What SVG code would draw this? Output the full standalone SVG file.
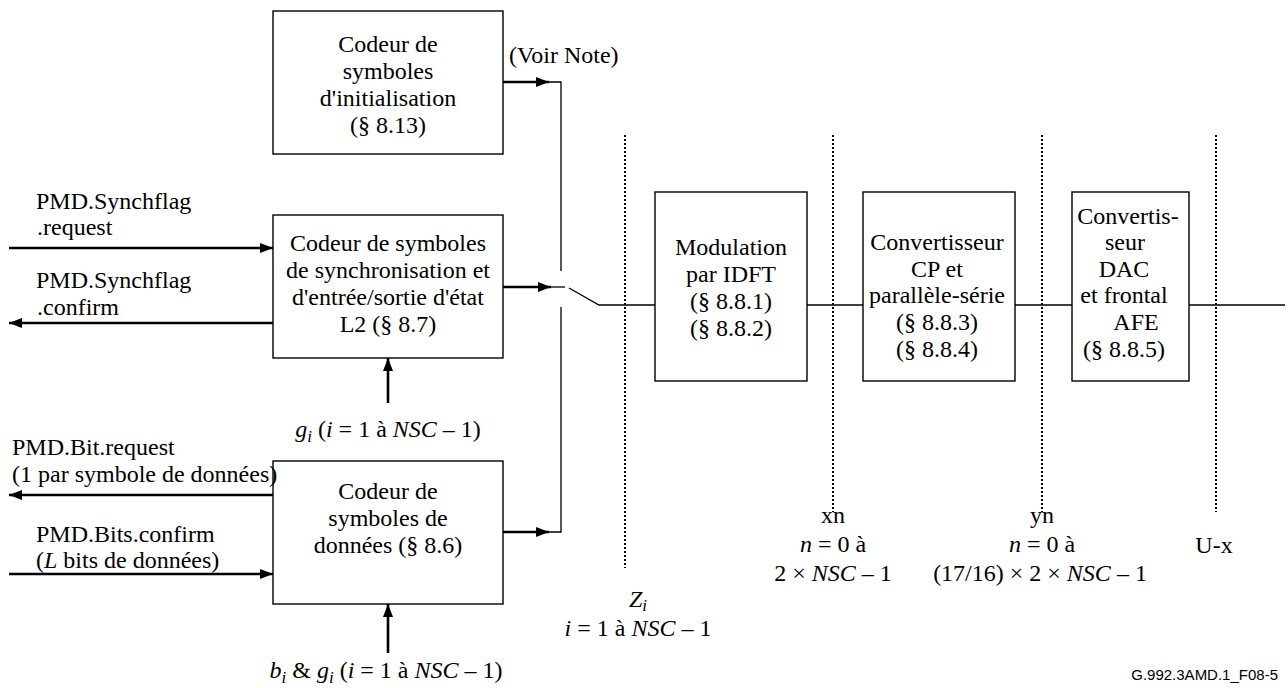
<svg xmlns="http://www.w3.org/2000/svg" width="1288" height="688" viewBox="0 0 1288 688">
  <defs>
    <marker id="arrow" markerUnits="userSpaceOnUse" markerWidth="14" markerHeight="10" refX="13" refY="5" orient="auto">
      <path d="M0,0 L13,5 L0,10 Z" fill="#000"/>
    </marker>
    <style>
      .box { fill: #fff; stroke: #000; stroke-width: 1.4; }
      .t { font-family: "Liberation Serif", "Times New Roman", serif; font-size: 24px; fill: #000; }
      .c { text-anchor: middle; }
      .it { font-style: italic; }
      .sub { font-size: 17px; font-style: italic; }
      .thick { stroke: #000; stroke-width: 2.6; fill: none; }
      .thin { stroke: #000; stroke-width: 1.3; fill: none; }
      .dots { stroke: #000; stroke-width: 2; stroke-dasharray: 2 2; fill: none; }
      .ref { font-family: "Liberation Sans", Arial, sans-serif; font-size: 15px; fill: #000; }
    </style>
  </defs>
  <rect width="1288" height="688" fill="#fff"/>

  <!-- reference points between stages -->
  <g id="reference-points">
    <line class="dots" x1="625" y1="135" x2="625" y2="568"/>
    <line class="dots" x1="833" y1="135" x2="833" y2="512"/>
    <line class="dots" x1="1042" y1="135" x2="1042" y2="512"/>
    <line class="dots" x1="1216" y1="135" x2="1216" y2="512"/>
  </g>

  <!-- signal paths -->
  <g id="connectors">
    <!-- encoder outputs into the selector bus -->
    <line class="thick" x1="503" y1="82" x2="549" y2="82" marker-end="url(#arrow)"/>
    <path class="thin" d="M548,82 H561 V271"/>
    <line class="thick" x1="503" y1="287" x2="551" y2="287" marker-end="url(#arrow)"/>
    <line class="thin" x1="550" y1="287" x2="565" y2="287"/>
    <line class="thick" x1="503" y1="532" x2="549" y2="532" marker-end="url(#arrow)"/>
    <path class="thin" d="M548,532 H561 V307"/>
    <!-- selector switch and transmit chain -->
    <path class="thin" d="M569,288 L599,305 H655"/>
    <line class="thin" x1="807" y1="305" x2="863" y2="305"/>
    <line class="thin" x1="1015" y1="305" x2="1072" y2="305"/>
    <line class="thin" x1="1189" y1="305" x2="1285" y2="305"/>
    <!-- primitives on the left -->
    <line class="thick" x1="9" y1="248" x2="273" y2="248" marker-end="url(#arrow)"/>
    <line class="thick" x1="273" y1="323" x2="9" y2="323" marker-end="url(#arrow)"/>
    <line class="thick" x1="273" y1="495" x2="9" y2="495" marker-end="url(#arrow)"/>
    <line class="thick" x1="9" y1="574" x2="273" y2="574" marker-end="url(#arrow)"/>
    <!-- parameter inputs from below -->
    <line class="thick" x1="388" y1="403" x2="388" y2="358" marker-end="url(#arrow)"/>
    <line class="thick" x1="388" y1="653" x2="388" y2="604" marker-end="url(#arrow)"/>
  </g>

  <g id="init-coder">
    <rect class="box" x="273" y="11" width="230" height="143"/>
    <text class="t c" x="388" y="52">Codeur de</text>
    <text class="t c" x="388" y="79">symboles</text>
    <text class="t c" x="388" y="106">d'initialisation</text>
    <text class="t c" x="388" y="133">(§ 8.13)</text>
  </g>

  <g id="sync-coder">
    <rect class="box" x="273" y="215" width="230" height="143"/>
    <text class="t c" x="388" y="251">Codeur de symboles</text>
    <text class="t c" x="388" y="278">de synchronisation et</text>
    <text class="t c" x="388" y="305">d'entrée/sortie d'état</text>
    <text class="t c" x="388" y="332">L2 (§ 8.7)</text>
  </g>

  <g id="data-coder">
    <rect class="box" x="273" y="461" width="230" height="143"/>
    <text class="t c" x="388" y="499">Codeur de</text>
    <text class="t c" x="388" y="526">symboles de</text>
    <text class="t c" x="388" y="553">données (§ 8.6)</text>
  </g>

  <g id="idft">
    <rect class="box" x="655" y="192" width="152" height="189"/>
    <text class="t c" x="731" y="255">Modulation</text>
    <text class="t c" x="731" y="282">par IDFT</text>
    <text class="t c" x="731" y="309">(§ 8.8.1)</text>
    <text class="t c" x="731" y="336">(§ 8.8.2)</text>
  </g>

  <g id="cp-ps">
    <rect class="box" x="863" y="192" width="152" height="189"/>
    <text class="t c" x="937" y="250">Convertisseur</text>
    <text class="t c" x="937" y="277">CP et</text>
    <text class="t c" x="937" y="303">parallèle-série</text>
    <text class="t c" x="937" y="330">(§ 8.8.3)</text>
    <text class="t c" x="937" y="357">(§ 8.8.4)</text>
  </g>

  <g id="dac-afe">
    <rect class="box" x="1072" y="192" width="117" height="189"/>
    <text class="t c" x="1128" y="224">Convertis-</text>
    <text class="t c" x="1125" y="250">seur</text>
    <text class="t c" x="1124" y="277">DAC</text>
    <text class="t c" x="1124" y="303">et frontal</text>
    <text class="t c" x="1136" y="330">AFE</text>
    <text class="t c" x="1124" y="357">(§ 8.8.5)</text>
  </g>

  <g id="labels">
    <text class="t" x="509" y="63">(Voir Note)</text>
    <text class="t" x="36" y="209">PMD.Synchflag</text>
    <text class="t" x="37" y="235">.request</text>
    <text class="t" x="36" y="288">PMD.Synchflag</text>
    <text class="t" x="37" y="315">.confirm</text>
    <text class="t" x="12" y="455">PMD.Bit.request</text>
    <text class="t" x="12" y="482">(1 par symbole de données)</text>
    <text class="t" x="36" y="542">PMD.Bits.confirm</text>
    <text class="t" x="36" y="568">(<tspan class="it">L</tspan> bits de données)</text>
    <text class="t c" x="388" y="437"><tspan class="it">g</tspan><tspan class="sub" dy="5">i</tspan><tspan dy="-5"> (</tspan><tspan class="it">i</tspan> = 1 à <tspan class="it">NSC</tspan> – 1)</text>
    <text class="t c" x="386" y="678"><tspan class="it">b</tspan><tspan class="sub" dy="5">i</tspan><tspan dy="-5"> &amp; </tspan><tspan class="it">g</tspan><tspan class="sub" dy="5">i</tspan><tspan dy="-5"> (</tspan><tspan class="it">i</tspan> = 1 à <tspan class="it">NSC</tspan> – 1)</text>
    <text class="t c" x="638" y="607"><tspan class="it">Z</tspan><tspan class="sub" dy="4">i</tspan></text>
    <text class="t c" x="638" y="636"><tspan class="it">i</tspan> = 1 à <tspan class="it">NSC</tspan> – 1</text>
    <text class="t c" x="833" y="523">xn</text>
    <text class="t c" x="833" y="552"><tspan class="it">n</tspan> = 0 à</text>
    <text class="t c" x="833" y="581">2 × <tspan class="it">NSC</tspan> – 1</text>
    <text class="t c" x="1042" y="523">yn</text>
    <text class="t c" x="1042" y="552"><tspan class="it">n</tspan> = 0 à</text>
    <text class="t c" x="1040" y="581">(17/16) × 2 × <tspan class="it">NSC</tspan> – 1</text>
    <text class="t c" x="1214" y="553">U-x</text>
    <text class="ref" x="1278" y="680" text-anchor="end">G.992.3AMD.1_F08-5</text>
  </g>
</svg>
